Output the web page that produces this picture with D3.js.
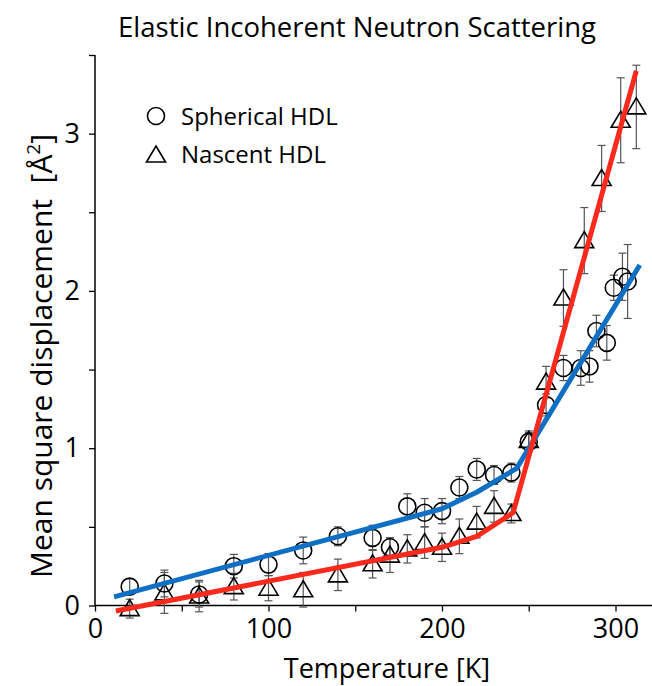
<!DOCTYPE html>
<html>
<head>
<meta charset="utf-8">
<script src="https://cdn.jsdelivr.net/npm/d3@7"></script>
<style>
  html, body { margin: 0; padding: 0; background: #fff; }
  svg { display: block; font-family: "Open Sans", "Noto Sans", sans-serif; }
</style>
</head>
<body>
<svg id="chart" width="652" height="686"></svg>
<script>
// ---- data ----
const sphericalT   = [20,40,60,80,100,120,140,160,170,180,190,200,210,220,230,240,250,260,270,280,285,289,295,299,304,307];
const sphericalMSD = [0.12,0.14,0.07,0.25,0.26,0.35,0.44,0.43,0.37,0.63,0.59,0.60,0.75,0.865,0.83,0.845,1.04,1.275,1.51,1.51,1.52,1.745,1.67,2.02,2.09,2.06];
const sphericalErr = [0.05,0.085,0.08,0.075,0.07,0.085,0.06,0.08,0.06,0.08,0.09,0.08,0.07,0.07,0.06,0.06,0.06,0.07,0.08,0.11,0.10,0.10,0.11,0.08,0.15,0.235];

const nascentT   = [20,40,60,80,100,120,140,160,170,180,190,200,210,220,230,240,250,260,270,282,292,303,312];
const nascentMSD = [-0.02,0.08,0.06,0.12,0.11,0.10,0.195,0.265,0.32,0.36,0.40,0.37,0.44,0.53,0.63,0.585,1.05,1.42,1.955,2.32,2.715,3.085,3.17];
const nascentErr = [0.06,0.13,0.10,0.085,0.08,0.11,0.10,0.09,0.11,0.09,0.10,0.09,0.11,0.10,0.10,0.06,0.06,0.10,0.18,0.21,0.21,0.27,0.265];

const sphericalFitT = [11, 200, 220, 243, 314];
const sphericalFitY = [0.055, 0.615, 0.72, 0.872, 2.165];
const nascentFitT   = [12, 200, 220, 241, 312];
const nascentFitY   = [-0.035, 0.37, 0.44, 0.59, 3.40];

const xTicks = [0, 50, 100, 150, 200, 250, 300];
const xTickLabels = ["0", "", "100", "", "200", "", "300"];
const yTicks = [0, 0.5, 1, 1.5, 2, 2.5, 3, 3.5];
const yTickLabels = ["0", "", "1", "", "2", "", "3", ""];

const legendLabels = ["Spherical HDL", "Nascent HDL"];
const titleText = "Elastic Incoherent Neutron Scattering";
const xLabelText = "Temperature [K]";

// ---- styles ----
const BLUE = "#0f6fc4";
const RED = "#fb2a1c";
const ERR = "#555555";

const svg = d3.select("#chart");
const x = d3.scaleLinear().domain([0, 320]).range([95, 650.2]);
const y = d3.scaleLinear().domain([0, 3.5]).range([605.5, 55]);

// axes
const xAxis = d3.axisBottom(x).tickValues(xTicks).tickSize(6).tickPadding(7)
  .tickFormat((d, i) => xTickLabels[i]);
const gx = svg.append("g").attr("transform", `translate(0,${y(0)})`).call(xAxis);
gx.select(".domain").attr("d", `M${x(0)},0H652`);
const yAxis = d3.axisLeft(y).tickValues(yTicks).tickSize(6).tickPadding(9)
  .tickFormat((d, i) => yTickLabels[i]);
const gy = svg.append("g").attr("transform", `translate(${x(0)},0)`).call(yAxis);
gy.select(".domain").attr("d", `M0,${y(3.5)}V${y(0)}`);
svg.selectAll(".domain").attr("stroke", "#000").attr("stroke-width", 1.5);
svg.selectAll(".tick line").attr("stroke", "#000").attr("stroke-width", 1.3);
svg.selectAll(".tick text").attr("font-size", 27).attr("fill", "#000")
  .attr("font-family", "Open Sans, sans-serif");

// error bars
function drawErr(T, V, E) {
  const g = svg.append("g").attr("stroke", ERR).attr("stroke-width", 1.2).attr("fill", "none");
  T.forEach((t, i) => {
    const cx = x(t), y1 = y(V[i] - E[i]), y2 = y(V[i] + E[i]);
    g.append("line").attr("x1", cx).attr("x2", cx).attr("y1", y1).attr("y2", y2);
    g.append("line").attr("x1", cx - 4).attr("x2", cx + 4).attr("y1", y1).attr("y2", y1);
    g.append("line").attr("x1", cx - 4).attr("x2", cx + 4).attr("y1", y2).attr("y2", y2);
  });
}
drawErr(sphericalT, sphericalMSD, sphericalErr);
drawErr(nascentT, nascentMSD, nascentErr);

const triPath = "M0,-9L9.5,7L-9.5,7Z";

// markers
svg.append("g").selectAll("circle").data(sphericalT).join("circle")
  .attr("cx", d => x(d)).attr("cy", (d, i) => y(sphericalMSD[i])).attr("r", 8.5)
  .attr("fill", "none").attr("stroke", "#000").attr("stroke-width", 1.6);
svg.append("g").selectAll("path").data(nascentT).join("path")
  .attr("d", triPath)
  .attr("transform", (d, i) => `translate(${x(d)},${y(nascentMSD[i])})`)
  .attr("fill", "none").attr("stroke", "#000").attr("stroke-width", 1.6)
  .attr("stroke-linejoin", "miter");

// fit lines
const line = d3.line().x(d => x(d[0])).y(d => y(d[1]));
svg.append("path").datum(sphericalFitT.map((t, i) => [t, sphericalFitY[i]]))
  .attr("d", line).attr("fill", "none").attr("stroke", BLUE).attr("stroke-width", 5)
  .attr("stroke-linejoin", "round");
svg.append("path").datum(nascentFitT.map((t, i) => [t, nascentFitY[i]]))
  .attr("d", line).attr("fill", "none").attr("stroke", RED).attr("stroke-width", 5)
  .attr("stroke-linejoin", "round");

// legend
const lg = svg.append("g");
lg.append("circle").attr("cx", 156).attr("cy", 116).attr("r", 8.5)
  .attr("fill", "none").attr("stroke", "#000").attr("stroke-width", 1.6);
lg.append("path").attr("d", triPath).attr("transform", "translate(156,155)")
  .attr("fill", "none").attr("stroke", "#000").attr("stroke-width", 1.6);
lg.selectAll("text").data(legendLabels).join("text")
  .attr("x", 181).attr("y", (d, i) => 125 + i * 38)
  .attr("font-size", 24).attr("fill", "#000").text(d => d);

// title
svg.append("text").attr("x", 357).attr("y", 37).attr("text-anchor", "middle")
  .attr("font-size", 27.5).attr("fill", "#000").text(titleText);

// axis labels
svg.append("text").attr("x", 387).attr("y", 678).attr("text-anchor", "middle")
  .attr("font-size", 27).attr("fill", "#000").text(xLabelText);
const yl = svg.append("text").attr("transform", "translate(52,356) rotate(-90)")
  .attr("text-anchor", "middle").attr("font-size", 30).attr("fill", "#000");
yl.append("tspan").text("Mean square displacement\u00a0\u00a0[Å");
yl.append("tspan").attr("dy", -12).attr("font-size", 19).text("2");
yl.append("tspan").attr("dy", 12).text("]");
</script>
</body>
</html>
